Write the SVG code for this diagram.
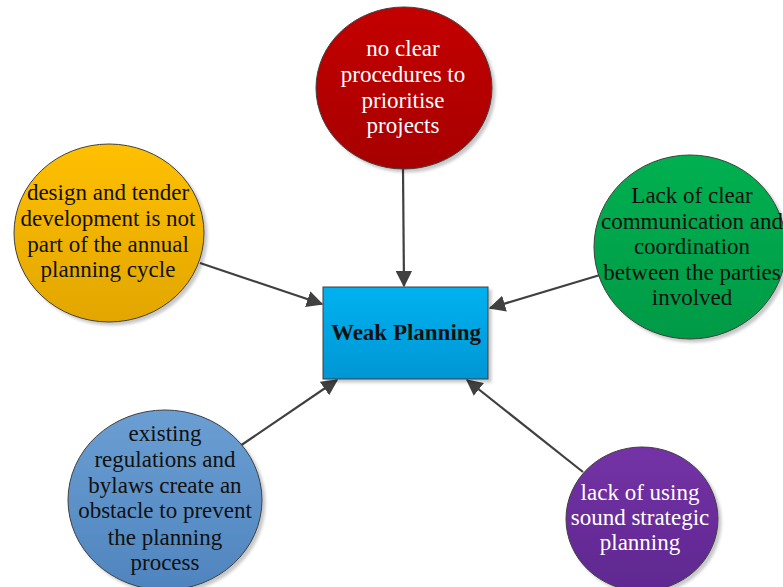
<svg xmlns="http://www.w3.org/2000/svg" width="783" height="587" viewBox="0 0 783 587">
  <defs>
    <style>
      .label { font-family: "Liberation Serif", "Times New Roman", serif; font-size: 23px; text-anchor: middle; }
      .dark { fill: #111111; }
      .light { fill: #ffffff; }
      .title { font-weight: bold; font-size: 23px; }
      .bubble { stroke: #3f3f3f; stroke-width: 1; filter: url(#shadow); }
      .link { stroke: #404040; stroke-width: 2.2; fill: none; marker-end: url(#head); }
    </style>
    <filter id="shadow" x="-10%" y="-10%" width="125%" height="125%">
      <feDropShadow dx="3" dy="3" stdDeviation="1.5" flood-color="#000000" flood-opacity="0.22"/>
    </filter>
    <marker id="head" viewBox="0 0 12 12" refX="11" refY="6" markerWidth="7.5" markerHeight="7.5" markerUnits="strokeWidth" orient="auto">
      <path d="M0,0 L12,6 L0,12 Z" fill="#404040"/>
    </marker>
    <linearGradient id="gRed" x1="0" y1="0" x2="0" y2="1">
      <stop offset="0" stop-color="#c40000"/>
      <stop offset="1" stop-color="#a60000"/>
    </linearGradient>
    <linearGradient id="gYellow" x1="0" y1="0" x2="0" y2="1">
      <stop offset="0" stop-color="#ffc000"/>
      <stop offset="1" stop-color="#e2a600"/>
    </linearGradient>
    <linearGradient id="gGreen" x1="0" y1="0" x2="0" y2="1">
      <stop offset="0" stop-color="#00b050"/>
      <stop offset="1" stop-color="#009a46"/>
    </linearGradient>
    <linearGradient id="gBlue" x1="0" y1="0" x2="0" y2="1">
      <stop offset="0" stop-color="#6b9fd3"/>
      <stop offset="1" stop-color="#4f84be"/>
    </linearGradient>
    <linearGradient id="gPurple" x1="0" y1="0" x2="0" y2="1">
      <stop offset="0" stop-color="#7432a6"/>
      <stop offset="1" stop-color="#5f2890"/>
    </linearGradient>
    <linearGradient id="gCore" x1="0" y1="0" x2="0" y2="1">
      <stop offset="0" stop-color="#00b2f0"/>
      <stop offset="1" stop-color="#0096d4"/>
    </linearGradient>
  </defs>

  <rect width="783" height="587" fill="#ffffff"/>

  <!-- connectors -->
  <g id="connectors">
    <line class="link" x1="403" y1="168" x2="404" y2="286"/>
    <line class="link" x1="200" y1="263" x2="322" y2="304"/>
    <line class="link" x1="600" y1="275" x2="490" y2="308"/>
    <line class="link" x1="240" y1="446" x2="337" y2="380"/>
    <line class="link" x1="583" y1="472" x2="467" y2="380"/>
  </g>

  <!-- central problem -->
  <g id="weak-planning">
    <rect class="bubble" x="323" y="287" width="165" height="92" fill="url(#gCore)" stroke="#1d4f6e"/>
    <text class="label title dark" x="406" y="340">Weak Planning</text>
  </g>

  <g id="no-clear-procedures">
    <ellipse class="bubble" cx="404" cy="88" rx="88" ry="81" fill="url(#gRed)"/>
    <text class="label light" x="403" y="56">no clear</text>
    <text class="label light" x="403" y="82">procedures to</text>
    <text class="label light" x="403" y="108">prioritise</text>
    <text class="label light" x="403" y="133">projects</text>
  </g>

  <g id="design-tender">
    <ellipse class="bubble" cx="109" cy="233" rx="95" ry="89" fill="url(#gYellow)"/>
    <text class="label dark" x="108" y="200">design and tender</text>
    <text class="label dark" x="108" y="226">development is not</text>
    <text class="label dark" x="108" y="252">part of the annual</text>
    <text class="label dark" x="108" y="277">planning cycle</text>
  </g>

  <g id="communication">
    <ellipse class="bubble" cx="690" cy="247" rx="96" ry="92" fill="url(#gGreen)"/>
    <text class="label dark" x="692" y="203">Lack of clear</text>
    <text class="label dark" x="692" y="229">communication and</text>
    <text class="label dark" x="692" y="254">coordination</text>
    <text class="label dark" x="692" y="280">between the parties</text>
    <text class="label dark" x="692" y="305">involved</text>
  </g>

  <g id="regulations">
    <ellipse class="bubble" cx="165" cy="500" rx="97" ry="90" fill="url(#gBlue)"/>
    <text class="label dark" x="165" y="441">existing</text>
    <text class="label dark" x="165" y="467">regulations and</text>
    <text class="label dark" x="165" y="493">bylaws create an</text>
    <text class="label dark" x="165" y="518">obstacle to prevent</text>
    <text class="label dark" x="165" y="545">the planning</text>
    <text class="label dark" x="165" y="570">process</text>
  </g>

  <g id="strategic-planning">
    <ellipse class="bubble" cx="642" cy="519" rx="76" ry="72" fill="url(#gPurple)"/>
    <text class="label light" x="640" y="500">lack of using</text>
    <text class="label light" x="640" y="525">sound strategic</text>
    <text class="label light" x="640" y="550">planning</text>
  </g>
</svg>
